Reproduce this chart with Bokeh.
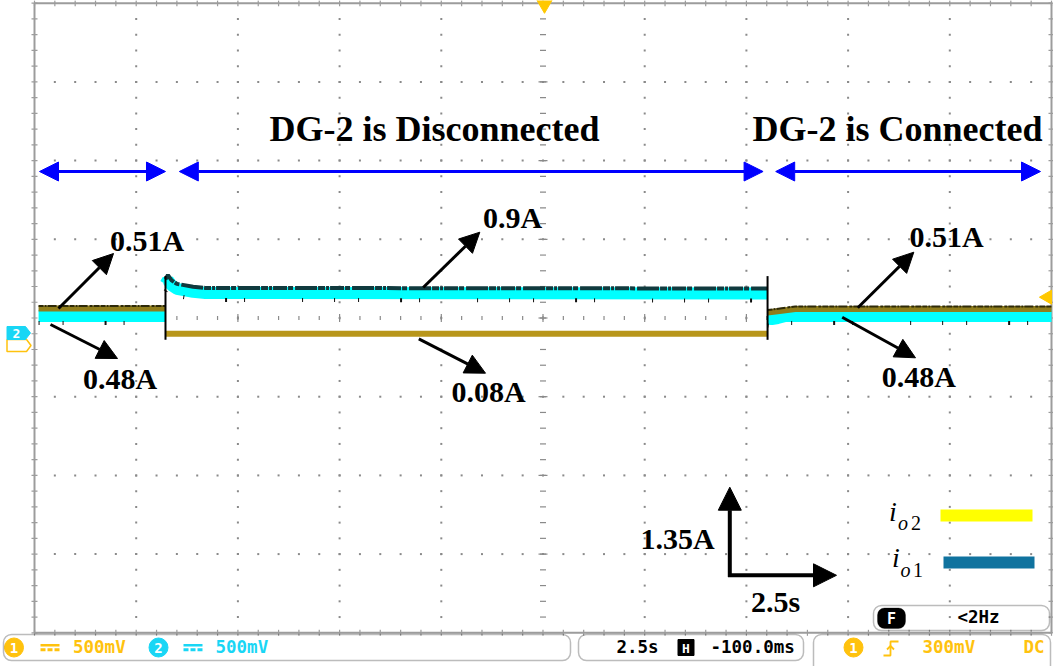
import numpy as np
from bokeh.plotting import figure
from bokeh.models import Range1d, Arrow, NormalHead, BoxAnnotation
from bokeh.core.properties import value
from bokeh.embed import file_html
from bokeh.resources import INLINE

# ------------------------------------------------------------------ data
t_disconnect = -9.28          # s : DG-2 disconnected
t_reconnect = 5.52            # s : DG-2 connected again

# io1 (cyan trace), three segments: before / during / after disconnection
io1_t = [[-12.40, -9.28],
         [-9.28, -9.22, -9.13, -9.00, -8.60, -8.30, 5.52],
         [5.52, 5.62, 5.77, 5.96, 12.50]]
io1_a = [[0.455, 0.455],
         [1.00, 1.07, 0.98, 0.92, 0.87, 0.85, 0.84],
         [0.41, 0.40, 0.42, 0.455, 0.455]]

# io2 (yellow trace)
io2_t = [[-12.40, -9.28],
         [-9.28, 5.52],
         [5.52, 5.72, 6.20, 12.50]]
io2_a = [[0.583, 0.583],
         [0.149, 0.149],
         [0.515, 0.530, 0.575, 0.575]]

phase_labels = ["DG-2 is Disconnected", "DG-2 is Connected"]
level_labels = ["0.51A", "0.48A", "0.9A", "0.08A", "0.51A", "0.48A"]
scale_labels = ["1.35A", "2.5s"]
ch_volts = ["500mV", "500mV"]
timebase = ["2.5s", "-100.0ms"]
trigger_info = ["300mV", "DC"]
freq_info = "<2Hz"

# ------------------------------------------------------------------ layout
W, H = 1053, 666
REF_W, REF_H = 1053, 666
T_DIV, A_DIV, NX, NY = 2.5, 1.35, 10, 8
GRID_CY = 0.42
PX_T = 101.7 / T_DIV
PX_A = 78.7 / A_DIV
x_lo = -NX / 2 * T_DIV - 34.0 / PX_T
y_hi = GRID_CY + NY / 2 * A_DIV + 2.7 / PX_A
x_hi = x_lo + REF_W / PX_T
y_lo = y_hi - REF_H / PX_A


def tx(px):
    return x_lo + px / PX_T


def ay(py):
    return y_hi - py / PX_A


SERIF = value("Liberation Serif")
MONO = value("DejaVu Sans Mono")
GRAY = "#8a8a8a"
YEL = "#ffc20e"
CYN = "#19d6f5"

p = figure(width=W, height=H, x_range=Range1d(x_lo, x_hi), y_range=Range1d(y_lo, y_hi),
           output_backend="svg", toolbar_location=None, x_axis_type=None, y_axis_type=None,
           min_border=0, outline_line_color=None,
           background_fill_color="white", border_fill_color="white")
p.title.visible = False

# ------------------------------------------------------------------ graticule
g_t0, g_t1 = -NX / 2 * T_DIV, NX / 2 * T_DIV
g_a0, g_a1 = GRID_CY - NY / 2 * A_DIV, GRID_CY + NY / 2 * A_DIV
minor_t = np.linspace(g_t0, g_t1, NX * 5 + 1)
minor_a = np.linspace(g_a0, g_a1, NY * 5 + 1)
major_t = minor_t[::5]
major_a = minor_a[::5]

dot_x, dot_y = [], []
for a in major_a[1:-1]:
    if abs(a - GRID_CY) < 1e-9:
        continue
    dot_x += list(minor_t[1:-1])
    dot_y += [a] * (len(minor_t) - 2)
for t in major_t[1:-1]:
    if abs(t) < 1e-9:
        continue
    dot_x += [t] * (len(minor_a) - 2)
    dot_y += list(minor_a[1:-1])
p.scatter(dot_x, dot_y, marker="square", size=2, fill_color=GRAY, line_color=None)

# centre cross with ticks
p.scatter(minor_t[1:-1], [GRID_CY] * (len(minor_t) - 2), marker="dash", size=4,
          angle=np.pi / 2, line_color=GRAY, line_width=1.2)
p.scatter(major_t[1:-1], [GRID_CY] * (len(major_t) - 2), marker="dash", size=8,
          angle=np.pi / 2, line_color=GRAY, line_width=1.2)
p.scatter([0.0] * (len(minor_a) - 2), minor_a[1:-1], marker="dash", size=6,
          line_color=GRAY, line_width=1.2)
p.scatter([0.0] * (len(major_a) - 2), major_a[1:-1], marker="dash", size=9,
          line_color=GRAY, line_width=1.2)

# border + border ticks
p.line([g_t0, g_t1, g_t1, g_t0, g_t0], [g_a0, g_a0, g_a1, g_a1, g_a0],
       line_color="#9c9c9c", line_width=2)
for a_edge in (g_a0, g_a1):
    p.scatter(minor_t, [a_edge] * len(minor_t), marker="dash", size=6,
              angle=np.pi / 2, line_color="#9c9c9c", line_width=1.2)
for t_edge in (g_t0, g_t1):
    p.scatter([t_edge] * len(minor_a), minor_a, marker="dash", size=6,
              line_color="#9c9c9c", line_width=1.2)

# ------------------------------------------------------------------ traces
ofs = 1.0 / PX_A  # one reference pixel in amps
p.multi_line(io1_t, io1_a, line_color="#00ffff", line_width=12)
# dark noisy fringe on top of the cyan band while DG-2 is out
p.multi_line([io1_t[1]], [[a + 5 * ofs for a in io1_a[1]]], line_color="#103a3e",
             line_width=4, line_dash="14 1 5 2 22 1 7 1 3 1")
# noise spikes under the cyan band
p.multi_line(io1_t, [[a - 7 * ofs for a in seg] for seg in io1_a], line_color="#111111",
             line_width=4, line_dash="1 23 1 41 2 17 1 57 1 31")

yel_cols = ["#8f7d1c", "#b8961a", "#8f7d1c"]
p.multi_line(io2_t, io2_a, line_color=yel_cols, line_width=6)
p.multi_line([io2_t[0], io2_t[2]], [[a + 2.5 * ofs for a in io2_a[0]],
                                    [a + 2.5 * ofs for a in io2_a[2]]],
             line_color="#2e2a08", line_width=2, line_dash="5 1 2 1 9 2 3 1 6 1")

# vertical jumps at the switching instants
all_a = [a for seg in io1_a + io2_a for a in seg]
p.segment(x0=[t_disconnect, t_reconnect], y0=[min(all_a) - 6 * ofs] * 2,
          x1=[t_disconnect, t_reconnect], y1=[max(all_a) + 4 * ofs] * 2,
          line_color="black", line_width=2)

# ------------------------------------------------------------------ phase arrows + titles
y_arr = ay(171)
spans = [(tx(39), t_disconnect), (t_disconnect + 0.34, t_reconnect - 0.11),
         (t_reconnect + 0.20, tx(1040))]
for xs, xe in spans:
    p.add_layout(Arrow(start=NormalHead(size=19, fill_color="blue", line_color="blue"),
                       end=NormalHead(size=19, fill_color="blue", line_color="blue"),
                       x_start=xs, y_start=y_arr, x_end=xe, y_end=y_arr,
                       line_color="blue", line_width=3))

p.text(x=[tx(434), tx(897)], y=[ay(128.8), ay(128.2)], text=phase_labels,
       text_font=SERIF, text_font_style="bold", text_font_size="36px",
       text_align="center", text_baseline="middle", text_color="black")

# ------------------------------------------------------------------ level arrows + labels
lvl_arrows = [((58, 308), (113, 253)), ((50, 324), (117, 358)),
              ((422.7, 287), (479.3, 231.7)), ((418.3, 338.3), (485, 372.7)),
              ((857.3, 307.3), (913.3, 251.7)), ((841.7, 316.7), (915, 357.3))]
for (xa, ya), (xb, yb) in lvl_arrows:
    p.add_layout(Arrow(end=NormalHead(size=20, fill_color="black", line_color="black"),
                       x_start=tx(xa), y_start=ay(ya), x_end=tx(xb), y_end=ay(yb),
                       line_color="black", line_width=3))
lvl_pos = [(146.7, 239.7), (119.5, 378.0), (512, 217.2), (488, 391.3),
           (946, 236.3), (918.3, 376.2)]
p.text(x=[tx(a) for a, b in lvl_pos], y=[ay(b) for a, b in lvl_pos], text=level_labels,
       text_font=SERIF, text_font_style="bold", text_font_size="30px",
       text_align="center", text_baseline="middle", text_color="black")

# ------------------------------------------------------------------ scale arrows
p.add_layout(Arrow(end=NormalHead(size=23, fill_color="black", line_color="black"),
                   x_start=tx(729.3), y_start=ay(576.5), x_end=tx(729.3), y_end=ay(486.7),
                   line_color="black", line_width=4))
p.add_layout(Arrow(end=NormalHead(size=23, fill_color="black", line_color="black"),
                   x_start=tx(727.5), y_start=ay(574.8), x_end=tx(836), y_end=ay(574.8),
                   line_color="black", line_width=4))
p.text(x=[tx(677), tx(775)], y=[ay(537.5), ay(600.8)], text=scale_labels,
       text_font=SERIF, text_font_style="bold", text_font_size="30px",
       text_align="center", text_baseline="middle", text_color="black")

# ------------------------------------------------------------------ legend
p.quad(left=[tx(940), tx(943)], right=[tx(1032), tx(1034)],
       top=[ay(509), ay(556)], bottom=[ay(521), ay(568)],
       fill_color=["#ffff00", "#10739f"], line_color=None)
p.text(x=[tx(888.5), tx(891.5)], y=[ay(510.5), ay(557.2)], text=["i", "i"],
       text_font=SERIF, text_font_style="italic", text_font_size="28px",
       text_align="left", text_baseline="middle", text_color="black")
p.text(x=[tx(897.5), tx(900)], y=[ay(522.5), ay(569.2)], text=["o", "o"],
       text_font=SERIF, text_font_style="italic", text_font_size="20px",
       text_align="left", text_baseline="middle", text_color="black")
p.text(x=[tx(910.5), tx(912.5)], y=[ay(522.5), ay(569.2)], text=["2", "1"],
       text_font=SERIF, text_font_size="20px",
       text_align="left", text_baseline="middle", text_color="black")

# ------------------------------------------------------------------ scope markers
p.scatter([tx(544)], [ay(3)], marker="inverted_triangle", size=17,
          fill_color="#ffc800", line_color="#ffc800")
p.scatter([tx(1047)], [ay(296.7)], marker="triangle", size=14, angle=np.pi / 2,
          fill_color="#ffc800", line_color="#ffc800")
p.patch([tx(v) for v in (6.5, 26, 30.5, 26, 6.5)],
        [ay(v) for v in (339, 339, 345, 351, 351)],
        fill_color="white", line_color=YEL, line_width=1.5)
p.patch([tx(v) for v in (6.5, 25, 30, 25, 6.5)],
        [ay(v) for v in (326, 326, 332.5, 339, 339)],
        fill_color=CYN, line_color=CYN)
p.text(x=[tx(16)], y=[ay(332.5)], text=["2"], text_font=MONO, text_font_style="bold",
       text_font_size="13px", text_align="center", text_baseline="middle", text_color="white")

# ------------------------------------------------------------------ status bar
for l, r, t, b in [(3, 570, 634, 660), (578, 803, 634, 660), (813, 1050, 634, 690)]:
    p.add_layout(BoxAnnotation(left=tx(l), right=tx(r), top=ay(t), bottom=ay(b),
                               fill_alpha=0, line_color="#222222", line_width=1.5,
                               border_radius=8))
p.add_layout(BoxAnnotation(left=tx(873), right=tx(1049), top=ay(605), bottom=ay(630),
                           fill_alpha=0, line_color="#222222", line_width=1.5,
                           border_radius=8))
p.add_layout(BoxAnnotation(left=tx(877), right=tx(905), top=ay(607.5), bottom=ay(628),
                           fill_color="black", fill_alpha=1, line_color="black",
                           border_radius=7, level="underlay"))
p.text(x=[tx(891)], y=[ay(618)], text=["F"], text_font=MONO, text_font_style="bold",
       text_font_size="15px", text_align="center", text_baseline="middle", text_color="white")
p.text(x=[tx(957)], y=[ay(616.5)], text=[freq_info], text_font=MONO, text_font_style="bold",
       text_font_size="17.5px", text_align="left", text_baseline="middle", text_color="black")

# channel icons
p.scatter([tx(13.5), tx(853)], [ay(647)] * 2, marker="circle", size=19,
          fill_color=YEL, line_color=YEL)
p.scatter([tx(158)], [ay(647)], marker="circle", size=19, fill_color=CYN, line_color=CYN)
p.text(x=[tx(13.5), tx(853), tx(158)], y=[ay(647.5)] * 3, text=["1", "1", "2"],
       text_font=MONO, text_font_style="bold", text_font_size="14px",
       text_align="center", text_baseline="middle", text_color="white")
# DC coupling symbols
for xl, xr, col in [(40, 59, YEL), (183, 202, CYN)]:
    p.segment(x0=[tx(xl)], y0=[ay(644.8)], x1=[tx(xr)], y1=[ay(644.8)],
              line_color=col, line_width=2.5)
    p.segment(x0=[tx(xl)], y0=[ay(649.3)], x1=[tx(xr)], y1=[ay(649.3)],
              line_color=col, line_width=3, line_dash="5 2")
p.text(x=[tx(72.5), tx(215)], y=[ay(646.5)] * 2, text=ch_volts, text_font=MONO,
       text_font_style="bold", text_font_size="17.5px", text_align="left",
       text_baseline="middle", text_color=[YEL, CYN])
p.text(x=[tx(616), tx(710)], y=[ay(646.5)] * 2, text=timebase, text_font=MONO,
       text_font_style="bold", text_font_size="17.5px", text_align="left",
       text_baseline="middle", text_color="black")
p.scatter([tx(685.5)], [ay(647)], marker="square", size=16, fill_color="black",
          line_color="black")
p.text(x=[tx(685.5)], y=[ay(647.5)], text=["H"], text_font=MONO, text_font_style="bold",
       text_font_size="13px", text_align="center", text_baseline="middle", text_color="white")
# trigger edge icon
p.line([tx(v) for v in (883, 890, 890, 898)], [ay(v) for v in (655, 655, 641, 641)],
       line_color=YEL, line_width=1.8)
p.line([tx(v) for v in (886.5, 890, 893.5)], [ay(v) for v in (649, 645.5, 649)],
       line_color=YEL, line_width=1.8)
p.text(x=[tx(922), tx(1023)], y=[ay(646.5)] * 2, text=trigger_info, text_font=MONO,
       text_font_style="bold", text_font_size="17.5px", text_align="left",
       text_baseline="middle", text_color=YEL)

open("out.html", "w").write(file_html(p, INLINE))
